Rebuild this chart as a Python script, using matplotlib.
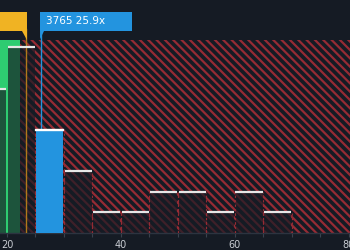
import matplotlib
matplotlib.use("Agg")
import matplotlib.pyplot as plt
from matplotlib.patches import Rectangle, Polygon

# ─── Données ──────────────────────────────────────────────────────────────────
bin_left = [15, 20, 25, 30, 35, 40, 45, 50, 55, 60, 65]
counts   = [7, 9, 5, 3, 1, 1, 2, 2, 1, 2, 1]
bin_w    = 5
company_pe   = 25.9
company_lbl  = "3765 25.9x"
industry_pe  = 23.3
fair_limit   = 22.3
zone_top     = 9.37
xticks       = [20, 40, 60, 80]

BG     = "#151b24"
GREEN  = "#2ecc71"
BLUE   = "#2394df"
ORANGE = "#f0b323"
RED    = "#962b34"

plt.rcParams["hatch.linewidth"] = 1.6

fig = plt.figure(figsize=(3.5, 2.5), dpi=100, facecolor=BG)
ax = fig.add_axes([0, 0.068, 1, 0.932])
ax.set_facecolor(BG)
ax.set_xlim(18.77, 80.2)
ax.set_ylim(0, 11.3)

# zones : verte (sous-évalué) et hachurée (surévalué)
ax.add_patch(Rectangle((10, 0), fair_limit - 10, zone_top, color=GREEN, lw=0, zorder=1))
ax.add_patch(Rectangle((fair_limit, 0), 100, zone_top, facecolor=BG, edgecolor=RED,
                       hatch="\\\\\\\\", lw=0, zorder=1))

# barres
for x0, c in zip(bin_left, counts):
    ax.bar(x0 + 0.1, c, width=bin_w - 0.2, align="edge", color=BG, alpha=0.68,
           lw=0, zorder=2)
    ax.plot([x0 + 0.1, x0 + bin_w - 0.1], [c, c], color="#e6e6e6", lw=1.6,
            solid_capstyle="butt", zorder=4)
    if x0 >= fair_limit:
        for xe in (x0, x0 + bin_w):
            ax.plot([xe, xe], [0, c], color=RED, lw=0.8, ls=(0, (2, 2)), zorder=3)

# barre de l'entreprise
i = bin_left.index(25)
ax.bar(25 + 0.1, counts[i], width=bin_w - 0.2, align="edge", color=BLUE, lw=0, zorder=3)
ax.plot([25.1, 29.9], [counts[i], counts[i]], color="white", lw=1.6, zorder=4)

# lignes verticales
ax.plot([industry_pe, industry_pe], [0, 9.9], color="#b07a1a", lw=1.0, zorder=3)
ax.plot([company_pe, company_pe], [counts[i], 9.9], color=BLUE, lw=1.0, zorder=3)

# étiquettes
ax.add_patch(Polygon([(10, 9.8), (23.5, 9.8), (23.5, 10.72), (10, 10.72)],
                     closed=True, color=ORANGE, lw=0, zorder=5))
ax.add_patch(Polygon([(22.6, 9.8), (23.5, 9.8), (23.5, 9.35)],
                     closed=True, color=ORANGE, lw=0, zorder=5))
ax.add_patch(Polygon([(25.8, 9.8), (41.9, 9.8), (41.9, 10.72), (25.8, 10.72)],
                     closed=True, color=BLUE, lw=0, zorder=5))
ax.add_patch(Polygon([(25.8, 9.8), (26.5, 9.8), (25.8, 9.4)],
                     closed=True, color=BLUE, lw=0, zorder=5))
ax.text(26.8, 10.26, company_lbl, color="white", fontsize=7.5, va="center",
        ha="left", zorder=6)

# axe x
for s in ["top", "right", "left"]:
    ax.spines[s].set_visible(False)
ax.spines["bottom"].set_color("#2c3440")
ax.spines["bottom"].set_linewidth(1.0)
ax.set_yticks([])
ax.set_xticks(xticks)
ax.set_xticks(range(20, 81, 5), minor=True)
ax.tick_params(axis="x", which="both", colors="#3a424d", length=3, width=0.8,
               labelcolor="#c8ccd2", labelsize=7, pad=2)

fig.savefig("out.png", dpi=100, facecolor=BG)
